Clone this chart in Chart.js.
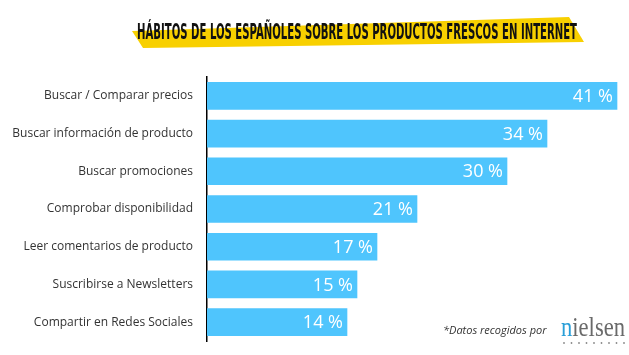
<!DOCTYPE html>
<html><head><meta charset="utf-8">
<script src="https://cdn.jsdelivr.net/npm/chart.js@4"></script>
<style>html,body{margin:0;padding:0;background:#fff;}#wrap{width:629px;height:355px;position:relative;}</style>
</head><body><div id="wrap"><canvas id="c" width="629" height="355"></canvas></div>
<script>
const titleText = "HÁBITOS DE LOS ESPAÑOLES SOBRE LOS PRODUCTOS FRESCOS EN INTERNET";
const categories = ["Buscar / Comparar precios","Buscar información de producto","Buscar promociones","Comprobar disponibilidad","Leer comentarios de producto","Suscribirse a Newsletters","Compartir en Redes Sociales"];
const values = [41, 34, 30, 21, 17, 15, 14];
const valueSuffix = " %";
const footnote = "*Datos recogidos por";
const logoText = "nielsen";

const decorPlugin = {
  id: 'decor',
  afterDraw(chart) {
    const ctx = chart.ctx;
    ctx.save();
    ctx.fillStyle = '#F8D000';
    ctx.beginPath();
    ctx.moveTo(132, 31); ctx.lineTo(569, 17); ctx.lineTo(584, 42); ctx.lineTo(143, 48);
    ctx.closePath(); ctx.fill();
    ctx.fillStyle = '#111';
    ctx.font = 'bold 22px "Liberation Sans Narrow", "DejaVu Sans Condensed", sans-serif';
    ctx.textBaseline = 'alphabetic';
    const w = ctx.measureText(titleText).width;
    ctx.translate(137, 39);
    ctx.scale(440 / w, 1);
    ctx.fillText(titleText, 0, 0);
    ctx.restore();

    ctx.save();
    ctx.fillStyle = '#fff';
    ctx.font = '18px "Open Sans", sans-serif';
    ctx.textAlign = 'right';
    ctx.textBaseline = 'middle';
    const meta = chart.getDatasetMeta(0);
    meta.data.forEach((bar, i) => {
      ctx.fillText(values[i] + valueSuffix, bar.x - 4, bar.y + 1);
    });
    ctx.restore();

    ctx.save();
    ctx.fillStyle = '#333';
    ctx.font = 'italic 11px "Open Sans", sans-serif';
    ctx.textBaseline = 'alphabetic';
    ctx.fillText(footnote, 443, 334);
    ctx.font = '27px "Liberation Serif", "DejaVu Serif", serif';
    const totalW = ctx.measureText(logoText).width;
    const sx = 64 / totalW;
    ctx.translate(561, 336);
    ctx.scale(sx, 1);
    ctx.fillStyle = '#2A9FD8';
    ctx.fillText(logoText[0], 0, 0);
    const nw = ctx.measureText(logoText[0]).width;
    ctx.fillStyle = '#6a6a6a';
    ctx.fillText(logoText.slice(1), nw, 0);
    ctx.restore();
    ctx.save();
    ctx.fillStyle = '#888';
    for (let k = 0; k < 9; k++) {
      ctx.beginPath(); ctx.arc(564 + k * 7.5, 343, 0.9, 0, Math.PI * 2); ctx.fill();
    }
    ctx.restore();
  }
};

new Chart(document.getElementById('c'), {
  type: 'bar',
  data: {
    labels: categories,
    datasets: [{ data: values, backgroundColor: '#4FC5FD', borderWidth: 0, barThickness: 27 }]
  },
  options: {
    indexAxis: 'y',
    responsive: false,
    animation: false,
    layout: { padding: { top: 77, bottom: 14, left: 0, right: 2 } },
    plugins: { legend: { display: false }, tooltip: { enabled: false }, title: { display: false } },
    scales: {
      x: { display: false, min: 0, max: 42 },
      y: {
        grid: { display: false, drawTicks: false },
        border: { display: true, color: '#000', width: 1.5 },
        ticks: { color: '#333', font: { family: '"Open Sans", sans-serif', size: 12 }, padding: 14 },
        afterFit(scale) { scale.width = 207; scale.paddingTop = 0; scale.paddingBottom = 0; }
      }
    }
  },
  plugins: [decorPlugin]
});
</script></body></html>
